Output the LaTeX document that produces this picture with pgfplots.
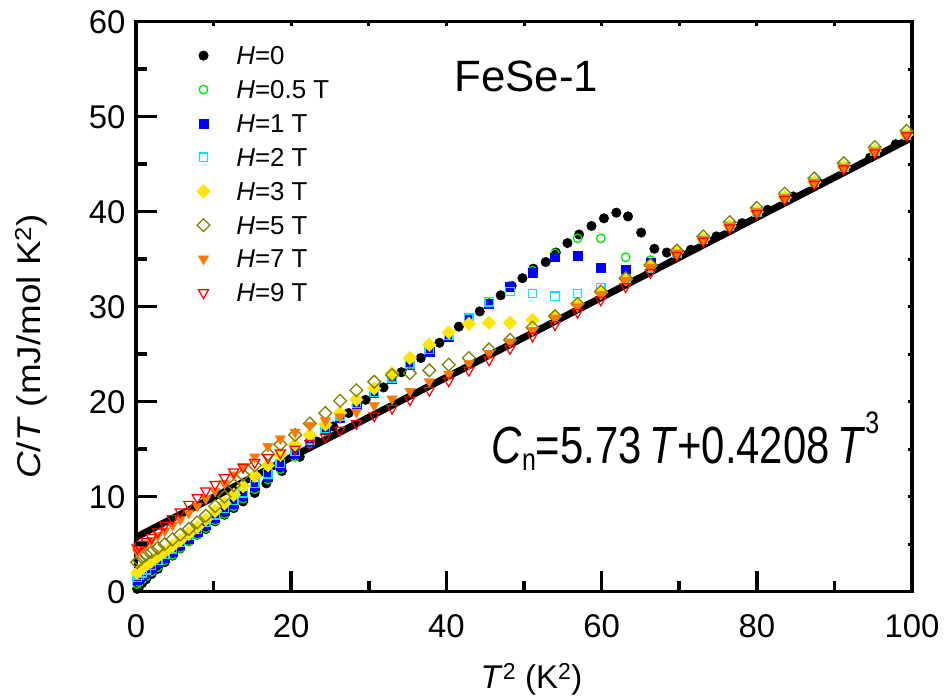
\documentclass[border=0pt]{standalone}
\usepackage{pgfplots}
\pgfplotsset{compat=1.18}
\usepackage{pgfplotstable}
\usepackage{fontspec}
\setmainfont{Liberation Sans}
\usepackage{graphicx}

\definecolor{cgreen}{RGB}{0,230,0}
\definecolor{cblue}{RGB}{0,0,255}
\definecolor{ccyan}{RGB}{0,230,255}
\definecolor{cyellow}{RGB}{255,230,0}
\definecolor{colive}{RGB}{128,128,0}
\definecolor{corange}{RGB}{255,120,0}
\definecolor{cred}{RGB}{255,0,0}

\pgfplotstableread{
x h05 h1 h2 h3 h5 h7 h9
0.15 0.8 1.2 1.5 2.0 3.1 4.2 4.6
0.4 1.0 1.4 1.7 2.2 3.3 4.4 4.8
0.8 1.3 1.7 2.0 2.5 3.6 4.7 5.0
1.3 1.6 2.0 2.3 2.8 3.9 5.0 5.3
2.0 2.1 2.5 2.8 3.2 4.2 5.4 5.7
2.8 2.6 3.0 3.3 3.7 4.6 5.9 6.3
3.7 3.3 3.6 3.9 4.2 5.0 6.4 7.0
4.7 3.9 4.2 4.5 4.8 5.5 7.0 7.7
5.7 4.6 4.9 5.2 5.4 6.0 7.6 8.4
6.8 5.3 5.6 5.9 6.1 6.6 8.3 9.2
7.9 6.0 6.3 6.6 6.8 7.3 9.0 9.9
9.0 6.7 7.0 7.3 7.6 8.0 9.8 10.6
10.2 7.5 7.8 8.1 8.5 9.0 10.6 11.3
11.4 8.2 8.5 8.8 9.3 10.0 11.4 12.0
12.6 9.0 9.3 9.6 10.2 11.2 12.3 12.6
13.8 9.8 10.1 10.4 11.1 12.3 13.2 13.1
15.3 10.8 11.1 11.4 12.2 13.3 14.2 13.6
17.0 11.8 12.1 12.4 13.3 14.5 15.3 14.1
18.6 12.9 13.2 13.5 14.4 15.5 16.1 14.6
20.5 14.2 14.5 14.8 15.5 16.5 16.8 15.0
22.4 15.6 15.8 16.0 16.5 17.7 17.5 15.6
24.4 16.9 17.0 17.2 17.6 18.8 18.0 16.3
26.3 18.2 18.3 18.5 18.8 20.1 18.4 17.0
28.4 19.6 19.7 19.8 20.2 21.2 18.9 17.7
30.7 20.9 20.9 21.0 21.4 22.1 19.6 18.5
33.0 22.4 22.4 22.5 23.0 22.8 20.3 19.3
35.3 23.9 23.9 24.0 24.6 23.0 21.1 20.2
37.8 25.4 25.3 25.5 26.0 23.3 22.1 21.2
40.3 26.9 26.8 27.0 27.3 23.9 22.9 22.2
42.9 28.7 28.6 28.8 28.2 24.6 24.0 23.3
45.5 30.4 30.3 30.5 28.3 25.5 25.1 24.4
48.2 32.2 32.1 31.6 28.3 26.5 26.3 25.6
51.1 33.8 33.6 31.4 28.6 27.8 27.5 26.9
54.0 35.6 35.2 31.1 29.0 29.0 28.8 28.1
56.9 37.2 35.4 31.4 30.3 30.3 30.0 29.4
59.9 37.2 34.1 32.0 31.5 31.6 31.3 30.7
63.1 35.2 33.9 32.9 32.9 33.0 32.8 32.1
66.3 34.9 34.6 34.1 34.3 34.4 34.2 33.6
69.7 35.7 35.7 35.6 35.7 35.9 35.7 35.4
73.1 37.1 37.1 37.1 37.1 37.4 37.1 36.9
76.5 38.5 38.5 38.5 38.5 38.9 38.5 38.3
80.0 40.0 40.0 40.0 40.0 40.4 40.0 39.8
83.6 41.5 41.5 41.5 41.5 41.9 41.5 41.3
87.4 43.1 43.1 43.1 43.1 43.5 43.1 42.9
91.2 44.7 44.7 44.7 44.7 45.1 44.7 44.5
95.2 46.4 46.4 46.4 46.4 46.8 46.4 46.2
99.3 48.1 48.1 48.1 48.1 48.5 48.1 48.0
}\fielddata

\pgfplotstableread{
x y
0.15 0.3
0.4 0.5
0.8 0.9
1.3 1.3
2.0 1.85
2.8 2.4
3.7 3.1
4.7 3.8
5.7 4.55
6.8 5.3
7.9 6.0
9.0 6.6
10.2 7.4
11.4 8.1
12.6 8.8
13.8 9.5
15.3 10.4
16.8 11.4
18.8 12.7
21.1 14.2
23.3 15.8
25.4 17.4
27.4 18.8
29.6 20.2
31.9 21.5
34.2 23.1
36.7 24.6
39.1 26.2
41.6 27.9
44.3 29.5
47.0 31.2
48.4 32.2
49.8 33.0
51.2 34.0
52.8 34.7
54.1 35.7
55.6 36.7
57.1 37.6
58.7 38.5
60.3 39.3
61.9 39.9
63.4 39.5
65.1 37.8
66.8 36.1
68.4 35.7
71.5 36.0
74.8 37.4
78.1 38.8
81.4 40.2
84.7 41.6
88.0 43.0
91.3 44.4
94.6 45.7
97.9 47.1
}\zerodata

\begin{document}
\begin{tikzpicture}
\begin{axis}[
  scale only axis, width=776bp, height=570bp,
  xmin=0, xmax=100, ymin=0, ymax=60,
  xtick={0,20,...,100}, minor xtick={10,30,...,90},
  ytick={0,10,...,60}, minor ytick={5,15,...,55},
  xtick pos=bottom, ytick pos=left,
  tick align=inside,
  major tick length=21bp, minor tick length=11bp,
  tick style={draw=black, line width=3.5bp},
  axis line style={line width=3.5bp},
  /pgf/number format/assume math mode=true,
  ticklabel style={font=\fontsize{33}{33}\selectfont},
  xticklabel style={yshift=-19bp},
  yticklabel style={xshift=-7bp},
  every axis x label/.style={at={(axis description cs:0.5097,-0.169)}, anchor=base},
  every axis y label/.style={at={(axis description cs:-0.1237,0.430)}, anchor=base, rotate=90},
  xlabel={\fontsize{33}{33}\selectfont\textit{T}\textsuperscript{2} (K\textsuperscript{2})},
  ylabel={\fontsize{33}{33}\selectfont\scalebox{1.12}[1]{\textit{C}/\textit{T} (mJ/mol K\textsuperscript{2})}},
  legend style={at={(axis description cs:0.078,0.9567)}, anchor=north west,
    draw=none, fill=none, inner sep=0pt,
    font=\fontsize{26}{26}\selectfont,
    row sep=15.9bp, column sep=26bp,
    nodes={inner sep=0pt, text depth=0pt}},
  legend cell align=left,
]
\addplot[only marks, mark=*, mark size=4.8bp, black] table[x=x,y=y]{\zerodata};
\addlegendentry{\textit{H}=0}
\addplot[only marks, mark=o, mark size=4.3bp, cgreen, mark options={line width=1.3bp, fill=white}] table[x=x,y=h05]{\fielddata};
\addlegendentry{\textit{H}=0.5 T}
\addplot[only marks, mark=square*, mark size=4.4bp, cblue] table[x=x,y=h1]{\fielddata};
\addlegendentry{\textit{H}=1 T}
\addplot[only marks, mark=square, mark size=4.2bp, ccyan, mark options={line width=1.3bp, fill=white}] table[x=x,y=h2]{\fielddata};
\addlegendentry{\textit{H}=2 T}
\addplot[only marks, mark=square*, mark size=4.8bp, cyellow, mark options={rotate=45}] table[x=x,y=h3]{\fielddata};
\addlegendentry{\textit{H}=3 T}
\addplot[only marks, mark=square, mark size=4.5bp, colive, mark options={rotate=45, line width=1.3bp, fill=white}] table[x=x,y=h5]{\fielddata};
\addlegendentry{\textit{H}=5 T}
\addplot[only marks, mark=triangle*, mark size=6bp, corange, mark options={rotate=180}] table[x=x,y=h7]{\fielddata};
\addlegendentry{\textit{H}=7 T}
\addplot[only marks, mark=triangle, mark size=5.8bp, cred, mark options={rotate=180, line width=1.2bp, fill=white}] table[x=x,y=h9]{\fielddata};
\addlegendentry{\textit{H}=9 T}
\addplot[black, line width=7bp, forget plot] coordinates {(0,5.73) (100,47.81)};
\node[anchor=base west, inner sep=0pt] at (axis cs:41.0,52.6) {\fontsize{44}{44}\selectfont FeSe-1};
\node[anchor=base west, inner sep=0pt] at (axis cs:45.8,13.5) {\scalebox{1}[1.25]{\fontsize{42}{42}\selectfont\textit{C}\raisebox{-6bp}{\fontsize{25}{25}\selectfont n}=5.73\hspace{0.18em}\textit{T}+0.4208\hspace{0.18em}\textit{T}\raisebox{24bp}{\fontsize{25}{25}\selectfont 3}}};
\end{axis}
% tick marks drawn on top, relative to the axis box (each 10 units = 95bp in y, 77.6bp in x)
\foreach \k in {1,2,3,4,5} {
  \draw[black, line width=3.5bp] ([yshift=\k*95bp]current axis.south west) -- ++(21bp,0);
  \draw[black, line width=3.5bp] ([yshift=\k*95bp-47.5bp]current axis.south west) -- ++(11bp,0);
  \draw[black, line width=3bp] ([yshift=\k*95bp]current axis.south east) -- ++(-4bp,0);
  \draw[black, line width=3bp] ([yshift=\k*95bp-47.5bp]current axis.south east) -- ++(-4bp,0);
}
\draw[black, line width=3.5bp] ([yshift=522.5bp]current axis.south west) -- ++(11bp,0);
\draw[black, line width=3bp] ([yshift=522.5bp]current axis.south east) -- ++(-4bp,0);
\foreach \k in {1,2,3,4} {
  \draw[black, line width=3.5bp] ([xshift=\k*155.2bp]current axis.south west) -- ++(0,21bp);
  \draw[black, line width=3bp] ([xshift=\k*155.2bp]current axis.north west) -- ++(0,-4bp);
}
\foreach \k in {1,2,3,4,5} {
  \draw[black, line width=3.5bp] ([xshift=\k*155.2bp-77.6bp]current axis.south west) -- ++(0,11bp);
  \draw[black, line width=3bp] ([xshift=\k*155.2bp-77.6bp]current axis.north west) -- ++(0,-4bp);
}
\pgfresetboundingbox
\path ([shift={(-136bp,-107.3bp)}]current axis.south west) rectangle ([shift={(33bp,21.7bp)}]current axis.north east);
\end{tikzpicture}
\end{document}
